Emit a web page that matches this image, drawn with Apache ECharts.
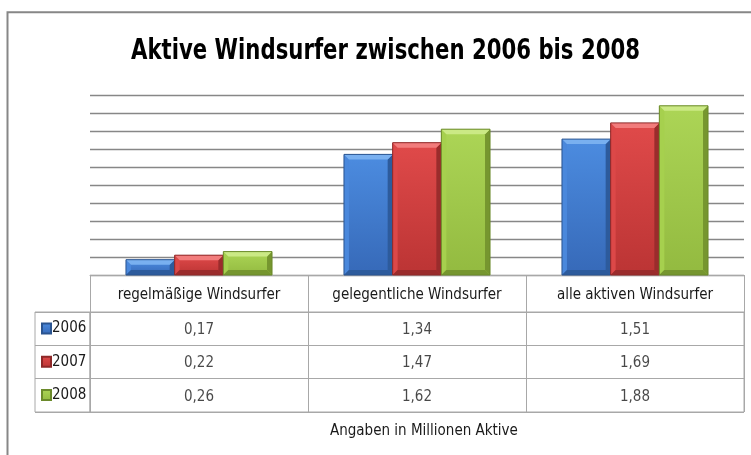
<!DOCTYPE html>
<html>
<head>
<meta charset="utf-8">
<script src="https://cdn.jsdelivr.net/npm/echarts@6/dist/echarts.min.js"></script>
<style>html,body{margin:0;padding:0;background:#fff}#c{width:751px;height:455px}</style>
</head>
<body>
<div id="c"></div>
<script>
var titleText = 'Aktive Windsurfer zwischen 2006 bis 2008';
var footerText = 'Angaben in Millionen Aktive';
var categories = ['regelmäßige Windsurfer', 'gelegentliche Windsurfer', 'alle aktiven Windsurfer'];
var years = ['2006', '2007', '2008'];
var values2006 = [0.17, 1.34, 1.51];
var values2007 = [0.22, 1.47, 1.69];
var values2008 = [0.26, 1.62, 1.88];

var FONT = '"DejaVu Sans Condensed", "Liberation Sans", sans-serif';
var seriesValues = [values2006, values2007, values2008];
var palette = [
  {top: '#4c8ce0', bottom: '#3669b8', light: '#79b0f0', side: '#4a88dc', dark: '#2d5b9c', border: '#2a5490'},
  {top: '#e04a4a', bottom: '#bb3434', light: '#f27c7c', side: '#dc4848', dark: '#9a2c2c', border: '#8e2828'},
  {top: '#acd556', bottom: '#93ba40', light: '#cbe985', side: '#a6d04e', dark: '#76962f', border: '#6b8a2b'}
];
function grad(p) {
  return new echarts.graphic.LinearGradient(0, 0, 0, 1, [
    {offset: 0, color: p.top}, {offset: 1, color: p.bottom}
  ]);
}
var GAP_RATIO = 0.33;
function makeRender(si) {
  var p = palette[si];
  return function (params, api) {
    var cat = api.value(0), val = api.value(1);
    var top = api.coord([cat, val]);
    var base = api.coord([cat, 0]);
    var band = api.size([1, 0])[0];
    var bw = band * (1 - GAP_RATIO) / years.length;
    var x0 = top[0] - bw * years.length / 2 + bw * si;
    var x1 = x0 + bw;
    var y0 = top[1], y1 = base[1];
    var h = y1 - y0;
    var b = Math.min(5, h / 3, bw / 4);
    return {
      type: 'group',
      children: [
        {type: 'rect', shape: {x: x0, y: y0, width: bw, height: h}, style: {fill: grad(p)}},
        {type: 'polygon', shape: {points: [[x0, y0], [x0 + b, y0 + b], [x0 + b, y1 - b], [x0, y1]]}, style: {fill: p.side}},
        {type: 'polygon', shape: {points: [[x1, y0], [x1 - b, y0 + b], [x1 - b, y1 - b], [x1, y1]]}, style: {fill: p.dark}},
        {type: 'polygon', shape: {points: [[x0, y1], [x0 + b, y1 - b], [x1 - b, y1 - b], [x1, y1]]}, style: {fill: p.dark}},
        {type: 'polygon', shape: {points: [[x0, y0], [x1, y0], [x1 - b, y0 + b], [x0 + b, y0 + b]]}, style: {fill: p.light}},
        {type: 'rect', shape: {x: x0, y: y0, width: bw, height: h}, style: {fill: 'none', stroke: p.border, lineWidth: 1}}
      ]
    };
  };
}
var barSeries = years.map(function (y, i) {
  return {
    name: y, type: 'custom', xAxisIndex: 0, yAxisIndex: 0,
    renderItem: makeRender(i),
    encode: {x: 0, y: 1},
    data: categories.map(function (c, j) { return [j, seriesValues[i][j]]; }),
    itemStyle: {color: grad(palette[i]), borderColor: palette[i].border, borderWidth: 1},
    silent: true
  };
});
var cellData = [];
years.forEach(function (y, i) {
  categories.forEach(function (c, j) {
    cellData.push([j, i, seriesValues[i][j]]);
  });
});
var tableSeries = {
  name: 'table', type: 'scatter', xAxisIndex: 1, yAxisIndex: 1,
  symbolSize: 1, itemStyle: {color: 'transparent'}, silent: true,
  data: cellData,
  label: {
    show: true, position: 'inside', offset: [0, 1.5], color: '#1a1a1a', fontSize: 15, fontFamily: FONT,
    formatter: function (p) { return p.value[2].toFixed(2).replace('.', ','); }
  }
};

// title: real text, horizontally condensed to the reference width
var TITLE_FONT_SIZE = 29;
var titleFont = 'bold ' + TITLE_FONT_SIZE + 'px ' + FONT;
var ctx = document.createElement('canvas').getContext('2d');
ctx.font = titleFont;
var titleW = ctx.measureText(titleText).width;
var titleScale = 509 / titleW;

var chart = echarts.init(document.getElementById('c'), null, {renderer: 'canvas'});
chart.setOption({
  animation: false,
  backgroundColor: '#fff',
  title: [
    {text: footerText, left: 325, top: 419, textStyle: {fontFamily: FONT, fontSize: 15, fontWeight: 'normal', color: '#1a1a1a'}}
  ],
  legend: {
    data: years, orient: 'vertical', left: 41, top: 321, padding: 0, itemWidth: 9, itemHeight: 10, itemGap: 18.3,
    icon: 'rect', selectedMode: false,
    textStyle: {fontFamily: FONT, fontSize: 15, color: '#1a1a1a', padding: [0, 0, 0, -4]}
  },
  graphic: [{
    type: 'rect', shape: {x: 7.5, y: 12.3, width: 900, height: 600},
    style: {fill: 'none', stroke: '#878787', lineWidth: 2}, silent: true, z: -1
  }, {
    type: 'text', x: 131, y: 51, scaleX: titleScale, scaleY: 1, silent: true,
    style: {text: titleText, x: 0, y: 0, font: titleFont, fill: '#000', verticalAlign: 'middle', align: 'left'}
  }],
  grid: [
    {left: 90, right: 7, top: 95, bottom: 180},
    {left: 90, right: 7, top: 312, bottom: 43, show: true, borderColor: '#a8a8a8', borderWidth: 1},
    {left: 35, width: 55, top: 312, bottom: 43, show: true, borderColor: '#a8a8a8', borderWidth: 1}
  ],
  xAxis: [
    {type: 'category', gridIndex: 0, data: categories,
     axisLine: {show: true, lineStyle: {color: '#a8a8a8', width: 1}},
     axisTick: {show: true, length: 37, lineStyle: {color: '#a8a8a8'}},
     axisLabel: {interval: 0, margin: 13, fontFamily: FONT, fontSize: 15, color: '#1a1a1a'}},
    {type: 'category', gridIndex: 1, data: categories,
     axisLine: {show: false}, axisTick: {show: false}, axisLabel: {show: false},
     splitLine: {show: true, lineStyle: {color: '#a8a8a8', width: 1}}},
    {type: 'value', gridIndex: 2, show: false}
  ],
  yAxis: [
    {type: 'value', gridIndex: 0, min: 0, max: 2, interval: 0.2,
     axisLine: {show: false}, axisTick: {show: false}, axisLabel: {show: false},
     splitLine: {show: true, lineStyle: {color: '#878787', width: 1.3}}},
    {type: 'category', gridIndex: 1, data: years, inverse: true,
     axisLine: {show: false}, axisTick: {show: false}, axisLabel: {show: false},
     splitLine: {show: true, lineStyle: {color: '#a8a8a8', width: 1}}},
    {type: 'category', gridIndex: 2, data: years, inverse: true,
     axisLine: {show: false}, axisTick: {show: false}, axisLabel: {show: false},
     splitLine: {show: true, lineStyle: {color: '#a8a8a8', width: 1}}}
  ],
  series: barSeries.concat([tableSeries])
});
</script>
</body>
</html>
